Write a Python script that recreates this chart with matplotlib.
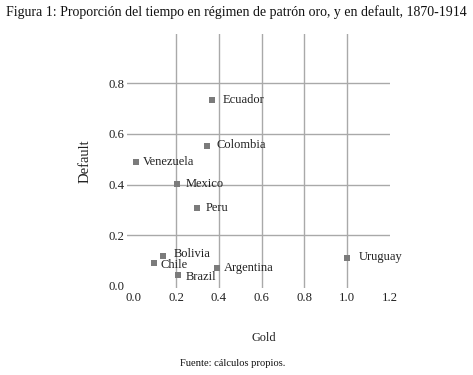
import matplotlib
matplotlib.use("Agg")
import matplotlib.pyplot as plt

plt.rcParams['font.family'] = ['Liberation Serif', 'DejaVu Serif']

# proporcion del tiempo en patron oro (x) y en default (y)
paises = ['Ecuador', 'Colombia', 'Venezuela', 'Mexico', 'Peru',
          'Bolivia', 'Chile', 'Brazil', 'Argentina', 'Uruguay']
gold = [0.366, 0.343, 0.01, 0.202, 0.299, 0.138, 0.094, 0.21, 0.39, 1.0]
default = [0.733, 0.553, 0.488, 0.402, 0.309, 0.12, 0.092, 0.043, 0.07, 0.109]

xticks = [0.0, 0.2, 0.4, 0.6, 0.8, 1.0, 1.2]
yticks = [0.0, 0.2, 0.4, 0.6, 0.8]

# desplazamiento de las etiquetas en pixeles
offs = [(11, 0), (10, 1), (7, 0), (9, 0), (8, 0),
        (11, 2), (7, -2), (7, -2), (7, 0), (12, 1)]

fig = plt.figure(figsize=(4.73, 3.75), dpi=100)
ax = fig.add_axes([127 / 473, 1 - 288 / 375, 263 / 473, 254 / 375])
ax.set_xlim(-0.03, 1.2)
ax.set_ylim(-0.008, 0.994)

for v in xticks[1:-1]:
    ax.axvline(v, color='#a9a9a9', lw=1.0, zorder=1)
for v in yticks[1:]:
    ax.axhline(v, color='#a9a9a9', lw=1.0, zorder=1)

ax.scatter(gold, default, marker='s', s=24, color='#7b7b7b', zorder=3, linewidths=0)
for p, x, y, o in zip(paises, gold, default, offs):
    ax.annotate(p, (x, y), xytext=o, textcoords='offset pixels',
                ha='left', va='center', fontsize=9, color='#222222', zorder=4)

ax.set_xticks(xticks)
ax.set_yticks(yticks)
ax.set_xticklabels(['%.1f' % v for v in xticks])
ax.set_yticklabels(['%.1f' % v for v in yticks])
ax.tick_params(length=0, labelsize=9.2, labelcolor='#222222')
ax.tick_params(axis='x', pad=3)
ax.tick_params(axis='y', pad=2)
for s in ax.spines.values():
    s.set_visible(False)

ax.set_xlabel('Gold', fontsize=8.8, color='#222222')
ax.set_ylabel('Default', fontsize=10.5, color='#222222', labelpad=12)
ax.xaxis.set_label_coords(0.52, -0.173)

fig.text(0.5, 1 - 12 / 375, 'Figura 1: Proporción del tiempo en régimen de patrón oro, y en default, 1870-1914',
         ha='center', va='center', fontsize=10, color='#111111')
fig.text(233 / 473, 1 - 363 / 375, 'Fuente: cálculos propios.', ha='center', va='center',
         fontsize=7.6, color='#111111')

fig.savefig('out.png', dpi=100)
